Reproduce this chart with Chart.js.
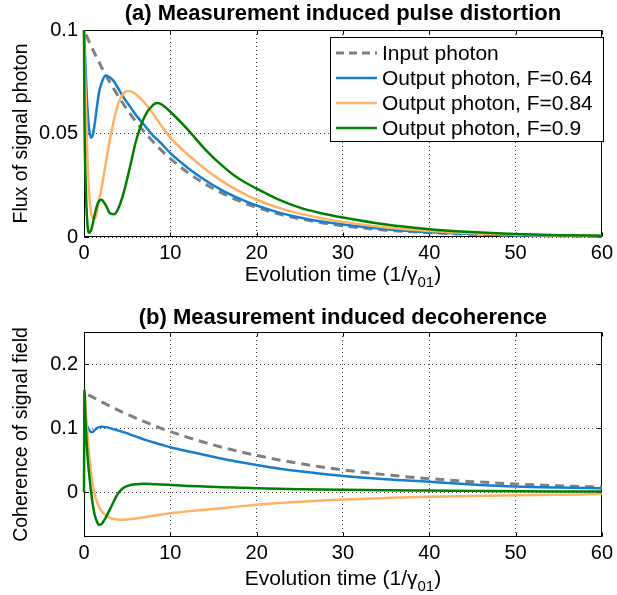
<!DOCTYPE html>
<html>
<head>
<meta charset="utf-8">
<script src="https://cdn.jsdelivr.net/npm/chart.js@4.4.1/dist/chart.umd.min.js"></script>
<style>
body { margin: 0; background: #fff; }
#wrap { position: relative; width: 617px; height: 595px; }
canvas { position: absolute; left: 0; }
</style>
</head>
<body>
<div id="wrap">
<canvas id="pulseChart" width="617" height="297" style="top:0px"></canvas>
<canvas id="cohChart" width="617" height="298" style="top:297px"></canvas>
</div>
<script>
// evolution time (1/gamma01), shared by every curve
const times = [0, 0.05, 0.2, 0.4, 0.6, 0.8, 1, 1.25, 1.5, 1.75, 2, 2.5, 3, 3.5, 4, 4.5, 5, 5.5, 6, 7, 8, 8.5, 9, 10,
  12, 14, 16, 18, 20, 22.5, 25, 27.5, 30, 35, 40, 45, 50, 55, 60];

// (a) flux of signal photon
const fluxInput = [0.1, 0.0995, 0.098, 0.0962, 0.0943, 0.0925, 0.0907, 0.0886, 0.0864, 0.0844, 0.0823, 0.0784, 0.0747, 0.0712, 0.0678, 0.0646, 0.0615, 0.0586, 0.0558, 0.0507, 0.046, 0.0438, 0.0417, 0.0379,
  0.0312, 0.0257, 0.0212, 0.0174, 0.0143, 0.0112, 0.0088, 0.0069, 0.0054, 0.0033, 0.0021, 0.0013, 0.0008, 0.0005, 0.0003];
const fluxF064 = [0.1, 0.095, 0.08, 0.062, 0.052, 0.048, 0.049, 0.055, 0.063, 0.07, 0.074, 0.078, 0.077, 0.075, 0.0715, 0.068, 0.065, 0.062, 0.059, 0.054, 0.049, 0.047, 0.045, 0.0405,
  0.0335, 0.0275, 0.0225, 0.0185, 0.0152, 0.0119, 0.0094, 0.0075, 0.006, 0.0037, 0.0023, 0.0015, 0.0009, 0.0006, 0.0004];
const fluxF084 = [0.1, 0.09, 0.066, 0.038, 0.021, 0.012, 0.009, 0.009, 0.012, 0.018, 0.023, 0.035, 0.047, 0.057, 0.065, 0.069, 0.0705, 0.0702, 0.069, 0.065, 0.0595, 0.0565, 0.0535, 0.048,
  0.04, 0.033, 0.027, 0.022, 0.018, 0.0142, 0.0113, 0.0091, 0.0073, 0.0046, 0.0029, 0.0018, 0.0011, 0.0007, 0.0005];
const fluxF090 = [0.1, 0.06, 0.025, 0.006, 0.002, 0.003, 0.006, 0.011, 0.015, 0.0175, 0.018, 0.0155, 0.0115, 0.011, 0.014, 0.02, 0.028, 0.037, 0.046, 0.058, 0.0638, 0.0647, 0.064, 0.0605,
  0.052, 0.0425, 0.0345, 0.028, 0.0234, 0.0182, 0.0142, 0.0115, 0.0094, 0.006, 0.0038, 0.0024, 0.0015, 0.0009, 0.0006];

// (b) coherence of signal field
const cohInput = [0.156, 0.1556, 0.1545, 0.153, 0.151, 0.15, 0.1484, 0.1466, 0.1448, 0.143, 0.1412, 0.1377, 0.1343, 0.131, 0.1277, 0.1246, 0.1215, 0.1185, 0.1156, 0.11, 0.1046, 0.102, 0.0994, 0.0946,
  0.0856, 0.0775, 0.0701, 0.0634, 0.0574, 0.0506, 0.0447, 0.0394, 0.0348, 0.0271, 0.0211, 0.0164, 0.0128, 0.01, 0.0078];
const cohF064 = [0.13, 0.125, 0.112, 0.102, 0.097, 0.094, 0.094, 0.097, 0.1, 0.1015, 0.102, 0.1015, 0.1, 0.098, 0.096, 0.094, 0.092, 0.089, 0.087, 0.082, 0.078, 0.076, 0.074, 0.07,
  0.064, 0.058, 0.052, 0.047, 0.0423, 0.037, 0.0325, 0.0287, 0.0253, 0.02, 0.0162, 0.012, 0.0088, 0.0072, 0.0062];
const cohF084 = [0.16, 0.155, 0.125, 0.09, 0.058, 0.033, 0.013, -0.004, -0.015, -0.023, -0.029, -0.036, -0.04, -0.042, -0.043, -0.043, -0.0425, -0.042, -0.041, -0.039, -0.037, -0.036, -0.035, -0.033,
  -0.03, -0.0275, -0.025, -0.0222, -0.0197, -0.017, -0.0148, -0.013, -0.0115, -0.0092, -0.0072, -0.006, -0.005, -0.004, -0.003];
const cohF090 = [0, 0.16, 0.105, 0.058, 0.028, 0.003, -0.018, -0.036, -0.046, -0.051, -0.05, -0.04, -0.027, -0.013, -0.001, 0.006, 0.0095, 0.0115, 0.0125, 0.013, 0.0125, 0.0122, 0.012, 0.0113,
  0.0098, 0.0088, 0.0078, 0.007, 0.0062, 0.0053, 0.0046, 0.004, 0.0036, 0.003, 0.0025, 0.002, 0.0015, 0.0012, 0.001];

const seriesLabels = ['Input photon', 'Output photon, F=0.64', 'Output photon, F=0.84', 'Output photon, F=0.9'];
const seriesColors = ['rgb(128,128,128)', 'rgb(22,126,206)', 'rgb(255,178,102)', 'rgb(0,128,0)'];
const xTicks = [0, 10, 20, 30, 40, 50, 60];
const fluxTicks = [0, 0.05, 0.1];
const cohTicks = [0, 0.1, 0.2];

const FONT = "'Liberation Sans', Arial, sans-serif";

function pts(ys) {
  return times.map((t, i) => ({x: t, y: ys[i]}));
}

function makeSets(arrs) {
  return arrs.map((ys, i) => ({
    label: seriesLabels[i],
    data: pts(ys),
    borderColor: seriesColors[i],
    borderWidth: i == 0 ? 3 : 2.5,
    borderDash: i == 0 ? [9, 6] : [],
    borderDashOffset: i == 0 ? 10 : 0,
    pointRadius: 0,
    cubicInterpolationMode: 'monotone',
    order: 4 - i,
    clip: 3
  }));
}

// box round the plot with small inward ticks, like matlab
const framePlugin = {
  id: 'frame',
  beforeDatasetsDraw(chart) {
    const {ctx, chartArea: a, scales} = chart;
    const L = Math.round(a.left) + 0.5, R = Math.round(a.right) - 0.5;
    const T = Math.round(a.top) + 0.5, B = Math.round(a.bottom) - 0.5;
    ctx.save();
    ctx.strokeStyle = '#000';
    ctx.lineWidth = 1;
    ctx.strokeRect(L, T, R - L, B - T);
    ctx.beginPath();
    scales.x.ticks.forEach(tk => {
      const px = Math.round(scales.x.getPixelForValue(tk.value)) + 0.5;
      ctx.moveTo(px, B); ctx.lineTo(px, B - 4);
      ctx.moveTo(px, T); ctx.lineTo(px, T + 4);
    });
    scales.y.ticks.forEach(tk => {
      const py = Math.round(scales.y.getPixelForValue(tk.value)) + 0.5;
      ctx.moveTo(L, py); ctx.lineTo(L + 4, py);
      ctx.moveTo(R, py); ctx.lineTo(R - 4, py);
    });
    ctx.stroke();
    ctx.restore();
  }
};

// x title with the subscript 01
const xTitlePlugin = {
  id: 'xTitle',
  afterDraw(chart, args, opts) {
    const {ctx, chartArea: a} = chart;
    const main1 = 'Evolution time (1/\u03b3', sub = '01', main2 = ')';
    ctx.save();
    ctx.fillStyle = '#000';
    ctx.textBaseline = 'alphabetic';
    ctx.font = '21px ' + FONT;
    const w1 = ctx.measureText(main1).width, w3 = ctx.measureText(main2).width;
    ctx.font = '15px ' + FONT;
    const w2 = ctx.measureText(sub).width;
    let x = (a.left + a.right) / 2 - (w1 + w2 + w3) / 2;
    const y = a.bottom + opts.offset;
    ctx.font = '21px ' + FONT;
    ctx.fillText(main1, x, y);
    x += w1;
    ctx.font = '15px ' + FONT;
    ctx.fillText(sub, x, y + 6);
    x += w2;
    ctx.font = '21px ' + FONT;
    ctx.fillText(main2, x, y);
    ctx.restore();
  }
};

// legend box inside the top plot
const boxLegendPlugin = {
  id: 'boxLegend',
  afterDraw(chart, args, opts) {
    if (!opts.show) return;
    const ctx = chart.ctx;
    ctx.save();
    ctx.fillStyle = '#fff';
    ctx.fillRect(330, 37, 274, 105);
    ctx.strokeStyle = '#000';
    ctx.lineWidth = 1;
    ctx.strokeRect(330.5, 37.5, 273, 104);
    const rows = [53, 78, 103, 128];
    seriesLabels.forEach((lab, i) => {
      ctx.beginPath();
      ctx.strokeStyle = seriesColors[i];
      ctx.lineWidth = i == 0 ? 3 : 2.5;
      ctx.setLineDash(i == 0 ? [8, 5] : []);
      ctx.moveTo(336, rows[i]);
      ctx.lineTo(377, rows[i]);
      ctx.stroke();
      ctx.setLineDash([]);
      ctx.fillStyle = '#000';
      ctx.font = '21px ' + FONT;
      ctx.textBaseline = 'middle';
      ctx.fillText(lab, 382, rows[i] + 1);
    });
    ctx.restore();
  }
};

function makeChart(id, o) {
  return new Chart(document.getElementById(id), {
    type: 'line',
    data: {datasets: makeSets(o.arrs)},
    plugins: [framePlugin, xTitlePlugin, boxLegendPlugin],
    options: {
      responsive: false,
      devicePixelRatio: 1,
      animation: false,
      layout: {padding: {left: 0, right: 12, top: 0, bottom: 0}},
      plugins: {
        legend: {display: false},
        tooltip: {enabled: false},
        title: {
          display: true,
          fullSize: false,
          text: o.title,
          color: '#000',
          font: {family: FONT, size: 22, weight: 'bold'},
          padding: o.titlePad
        },
        xTitle: {offset: o.xTitleOffset},
        boxLegend: {show: o.legend}
      },
      scales: {
        x: {
          type: 'linear',
          min: 0,
          max: 60,
          afterBuildTicks: s => { s.ticks = xTicks.map(v => ({value: v})); },
          afterFit: s => { s.height = o.xHeight; },
          ticks: {color: '#000', font: {family: FONT, size: 20}, padding: 4, maxRotation: 0},
          grid: {color: 'rgba(0,0,0,0.75)', lineWidth: 1, drawTicks: false},
          border: {display: false, dash: [1, 3]}
        },
        y: {
          type: 'linear',
          min: o.ymin,
          max: o.ymax,
          afterBuildTicks: s => { s.ticks = o.yTicks.map(v => ({value: v})); },
          afterFit: s => { s.width = 84; },
          ticks: {
            color: '#000',
            font: {family: FONT, size: 20},
            padding: 6,
            callback: v => String(Math.round(v * 1000) / 1000)
          },
          grid: {color: 'rgba(0,0,0,0.75)', lineWidth: 1, drawTicks: false},
          border: {display: false, dash: [1, 3]},
          title: {
            display: true,
            text: o.yTitle,
            color: '#000',
            font: {family: FONT, size: 19.5},
            padding: {top: 10, bottom: 0}
          }
        }
      }
    }
  });
}

makeChart('pulseChart', {
  arrs: [fluxInput, fluxF064, fluxF084, fluxF090],
  title: '(a) Measurement induced pulse distortion',
  titlePad: {top: 0.8, bottom: 2.8},
  yTitle: 'Flux of signal photon',
  ymin: 0, ymax: 0.1, yTicks: fluxTicks,
  xHeight: 60, xTitleOffset: 44, legend: true
});

makeChart('cohChart', {
  arrs: [cohInput, cohF064, cohF084, cohF090],
  title: '(b) Measurement induced decoherence',
  titlePad: {top: 7.8, bottom: 0.8},
  yTitle: 'Coherence of signal field',
  ymin: -0.07, ymax: 0.25, yTicks: cohTicks,
  xHeight: 58, xTitleOffset: 48, legend: false
});
</script>
</body>
</html>
